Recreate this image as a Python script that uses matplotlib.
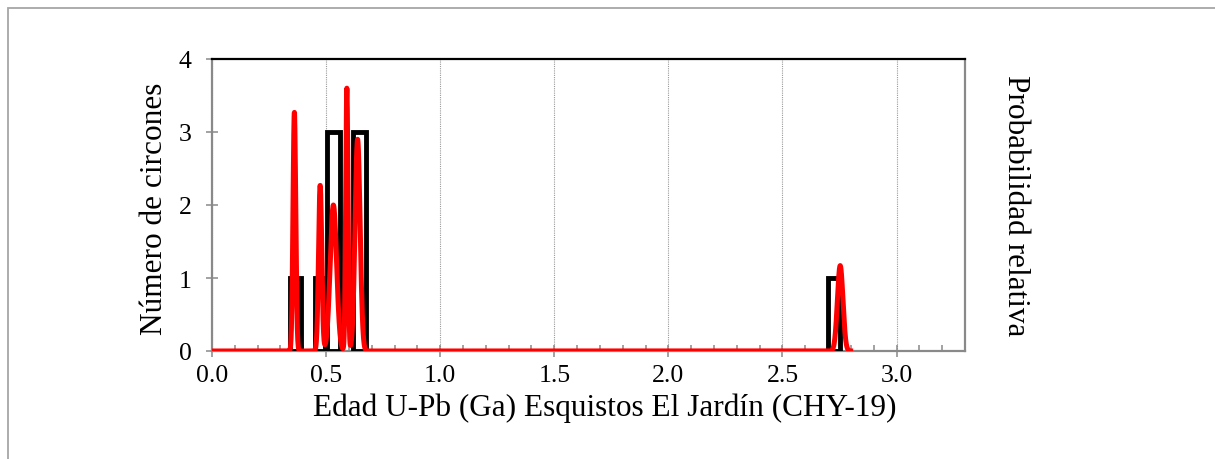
import numpy as np
import matplotlib
matplotlib.use('Agg')
from matplotlib import pyplot as plt
from matplotlib.patches import Rectangle
from matplotlib.ticker import MultipleLocator

# histogram bins (Ga) and counts
bin_left = [0.34, 0.45, 0.505, 0.62, 2.70]
bin_right = [0.39, 0.495, 0.563, 0.673, 2.753]
counts = [1, 1, 3, 3, 1]

# probability curve: peaks
peak_age = [0.361, 0.474, 0.532, 0.591, 0.638, 2.753]
peak_height = [3.27, 2.27, 2.0, 3.6, 2.9, 1.17]
peak_sigma = [0.006, 0.007, 0.014, 0.005, 0.011, 0.012]
curve_start, curve_end = 0.0, 2.81

x_ticks = [0.0, 0.5, 1.0, 1.5, 2.0, 2.5, 3.0]
y_ticks = [0, 1, 2, 3, 4]

plt.rcParams['font.family'] = ['Liberation Serif', 'DejaVu Serif']

W, H = 1215, 460
fig = plt.figure(figsize=(W / 100, H / 100), dpi=100)
fig.set_facecolor('white')

# chart area border (only top and left visible)
fig.patches.append(Rectangle((8 / W, -0.5), 1.5, 1.5 - 9 / H, transform=fig.transFigure,
                             fill=False, edgecolor='#a6a6a6', linewidth=1.3))

ax = fig.add_axes([212 / W, 1 - 352 / H, (965 - 212) / W, (352 - 60) / H])
ax.set_xlim(0, 3.3)
ax.set_ylim(0, 4)

widths = [r - l for l, r in zip(bin_left, bin_right)]
ax.bar(bin_left, counts, width=widths, align='edge', fill=False,
       edgecolor='black', linewidth=3.5, zorder=3)

gray = '#898989'
for s in ['left', 'bottom', 'right']:
    ax.spines[s].set_color(gray)
    ax.spines[s].set_linewidth(1.6)
ax.spines['top'].set_color('black')
ax.spines['top'].set_linewidth(1.6)

ax.xaxis.set_major_locator(MultipleLocator(0.5))
ax.xaxis.set_minor_locator(MultipleLocator(0.1))
ax.set_xticks(x_ticks)
ax.set_xticklabels(['%.1f' % v for v in x_ticks])
ax.set_yticks(y_ticks)
ax.tick_params(axis='x', which='major', direction='inout', length=9, width=1.1,
               color=gray, labelsize=18.5, pad=5)
ax.tick_params(axis='x', which='minor', direction='in', length=4, width=1.1, color=gray)
ax.tick_params(axis='y', which='major', direction='inout', length=9, width=1.1,
               color=gray, labelsize=18.5, pad=10)
ax.grid(axis='x', which='major', color='#9a9a9a', linestyle=(0, (1, 1)), linewidth=0.8)
ax.set_axisbelow(True)

ax2 = ax.twinx()
ax2.set_ylim(0, 4)
ax2.set_yticks([])
for s in ax2.spines.values():
    s.set_visible(False)

xs = np.linspace(curve_start, curve_end, 4000)
prob = np.zeros_like(xs)
for m, h, sg in zip(peak_age, peak_height, peak_sigma):
    prob += h * np.exp(-0.5 * ((xs - m) / sg) ** 2)
ax2.plot(xs, prob, color='#ff0000', linewidth=3.6, solid_capstyle='butt')

fig.text(604.5 / W, 1 - 408 / H, 'Edad U-Pb (Ga) Esquistos El Jardín (CHY-19)',
         ha='center', va='center', fontsize=22.5)
fig.text(155 / W, 1 - 208.5 / H, 'Número de circones', rotation=90,
         ha='center', va='center', fontsize=22.5)
fig.text(1016 / W, 1 - 206 / H, 'Probabilidad relativa', rotation=270,
         ha='center', va='center', fontsize=22.5)

plt.savefig('out.png', dpi=100)
